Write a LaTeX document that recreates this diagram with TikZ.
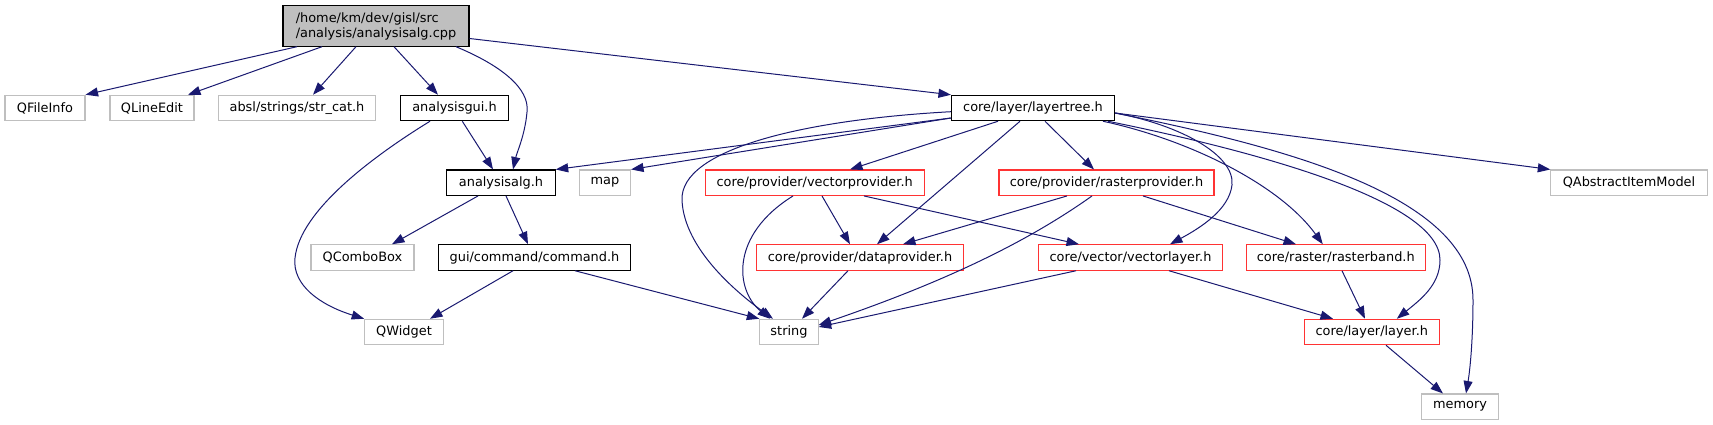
\documentclass[tikz,border=0pt]{standalone}
\usepackage{fontspec}
\setmainfont{DejaVu Sans}
\usetikzlibrary{arrows.meta}
\definecolor{edgecol}{HTML}{191970}
\definecolor{gcol}{HTML}{BFBFBF}
\definecolor{rcol}{HTML}{FF3333}
\newcommand\gfs{\fontsize{12.9}{15}\selectfont}
\tikzset{
  box/.style={rectangle, inner sep=0pt, minimum height=25.4pt, font=\gfs, line width=1.1pt, fill=white},
  gbox/.style={box, draw=gcol},
  rbox/.style={box, draw=rcol},
  bbox/.style={box, draw=black},
  dep/.style={draw=edgecol, line width=1pt, -{Triangle[length=12.5pt,width=9pt]}},
}
\begin{document}
\begin{tikzpicture}[x=1pt,y=-1pt]
\useasboundingbox (0,0) rectangle (1713,425);
% row 0
\node[box, draw=black, fill=gcol, minimum width=186pt, minimum height=40.3pt, align=left] (root) at (376,26) {/home/km/dev/gisl/src\\/analysis/analysisalg.cpp};
% row 1
\node[gbox, minimum width=80pt] (qfi) at (45,108) {QFileInfo};
\node[gbox, minimum width=84pt] (qle) at (152,108) {QLineEdit};
\node[gbox, minimum width=157.7pt] (abs) at (297,108) {absl/strings/str\_cat.h};
\node[bbox, minimum width=108.3pt] (agui) at (454.5,108) {analysisgui.h};
\node[bbox, minimum width=163pt] (lt) at (1033,108) {core/layer/layertree.h};
% row 2
\node[bbox, minimum width=108.3pt] (aalg) at (501,182.7) {analysisalg.h};
\node[gbox, minimum width=51pt] (map) at (605,182.7) {map};
\node[rbox, minimum width=219.3pt] (vp) at (814.7,182.7) {core/provider/vectorprovider.h};
\node[rbox, minimum width=215pt] (rp) at (1106.5,182.7) {core/provider/rasterprovider.h};
\node[gbox, minimum width=156.3pt] (qaim) at (1629,182.7) {QAbstractItemModel};
% row 3
\node[gbox, minimum width=103pt] (qcb) at (362.5,257.5) {QComboBox};
\node[bbox, minimum width=192.4pt] (cmd) at (534.5,257.5) {gui/command/command.h};
\node[rbox, minimum width=206.6pt] (dp) at (860,257.5) {core/provider/dataprovider.h};
\node[rbox, minimum width=184.4pt] (vl) at (1130.5,257.5) {core/vector/vectorlayer.h};
\node[rbox, minimum width=179pt] (rb) at (1335.8,257.5) {core/raster/rasterband.h};
% row 4
\node[gbox, minimum width=78.6pt] (qw) at (404,332) {QWidget};
\node[gbox, minimum width=58.3pt] (str) at (789,332) {string};
\node[rbox, minimum width=135pt] (lay) at (1371.8,332) {core/layer/layer.h};
% row 5
\node[gbox, minimum width=77.4pt] (mem) at (1460,406.7) {memory};

% edges from root
\draw[dep] ([xshift=-79pt]root.south) -- (qfi.north east);
\draw[dep] ([xshift=-54pt]root.south) -- ([xshift=36pt]qle.north);
\draw[dep] ([xshift=-20pt]root.south) -- ([xshift=16pt]abs.north);
\draw[dep] ([xshift=18pt]root.south) -- ([xshift=-16.5pt]agui.north);
\draw[dep] ([xshift=80pt]root.south) .. controls (500,65) and (530,88) .. (527,112) .. controls (525,135) and (517,152) .. ([xshift=12pt]aalg.north);
\draw[dep] ([yshift=-12.5pt]root.east) -- (lt.north west);
% analysisgui
\draw[dep] ([xshift=7.8pt]agui.south) -- ([xshift=-8pt]aalg.north);
\draw[dep] ([xshift=-24.5pt]agui.south) .. controls (375,155) and (300,210) .. (295,258) .. controls (292,285) and (320,305) .. (qw.north west);
% analysisalg
\draw[dep] ([xshift=-23pt]aalg.south) -- ([xshift=29.5pt]qcb.north);
\draw[dep] ([xshift=5pt]aalg.south) -- ([xshift=-6.5pt]cmd.north);
% command
\draw[dep] ([xshift=-21.5pt]cmd.south) -- ([xshift=26pt]qw.north);
\draw[dep] ([xshift=40.5pt]cmd.south) -- (str.north west);
% layertree
\draw[dep] ([yshift=-10pt]lt.west) -- (aalg.north east);
\draw[dep] ([yshift=-10pt]lt.west) -- (map.north east);
\draw[dep] ([yshift=-3.7pt]lt.west) .. controls (800,120) and (680,150) .. (682,200) .. controls (684,250) and (740,295) .. ([xshift=-16pt]str.north);
\draw[dep] ([xshift=-35pt]lt.south) -- ([xshift=35.3pt]vp.north);
\draw[dep] ([xshift=-13pt]lt.south) -- ([xshift=17pt]dp.north);
\draw[dep] ([xshift=12pt]lt.south) -- ([xshift=-12.5pt]rp.north);
\draw[dep] ([yshift=-5pt]lt.east) .. controls (1180,125) and (1235,155) .. (1232,185) .. controls (1229,210) and (1200,228) .. ([xshift=39.5pt]vl.north);
\draw[dep] ([xshift=70pt]lt.south) .. controls (1190,140) and (1280,185) .. ([xshift=-13pt]rb.north);
\draw[dep] ([xshift=75pt]lt.south) .. controls (1250,150) and (1440,200) .. (1440,260) .. controls (1440,285) and (1420,300) .. ([xshift=25pt]lay.north);
\draw[dep] ([yshift=-5pt]lt.east) .. controls (1300,150) and (1473,200) .. (1473,300) .. controls (1473,340) and (1470,370) .. ([xshift=6pt]mem.north);
\draw[dep] ([yshift=-5pt]lt.east) -- (qaim.north west);
% vectorprovider
\draw[dep] ([xshift=-21.7pt]vp.south) .. controls (730,235) and (735,290) .. ([xshift=-19pt]str.north);
\draw[dep] ([xshift=7.3pt]vp.south) -- ([xshift=-10pt]dp.north);
\draw[dep] ([xshift=49.3pt]vp.south) -- ([xshift=-51.5pt]vl.north);
% rasterprovider
\draw[dep] ([xshift=-39.5pt]rp.south) -- ([xshift=43pt]dp.north);
\draw[dep] ([xshift=-14.5pt]rp.south) .. controls (1030,240) and (950,280) .. ([yshift=7pt]str.east);
\draw[dep] ([xshift=36.5pt]rp.south) -- ([xshift=-39.8pt]rb.north);
% dataprovider
\draw[dep] ([xshift=-12pt]dp.south) -- ([xshift=13pt]str.north);
% vectorlayer
\draw[dep] ([xshift=-54.5pt]vl.south) -- ([yshift=5pt]str.east);
\draw[dep] ([xshift=38.5pt]vl.south) -- ([xshift=-38.8pt]lay.north);
% rasterband
\draw[dep] ([xshift=6.2pt]rb.south) -- ([xshift=-6.8pt]lay.north);
% layer
\draw[dep] ([xshift=14.2pt]lay.south) -- ([xshift=-17pt]mem.north);
\end{tikzpicture}
\end{document}
